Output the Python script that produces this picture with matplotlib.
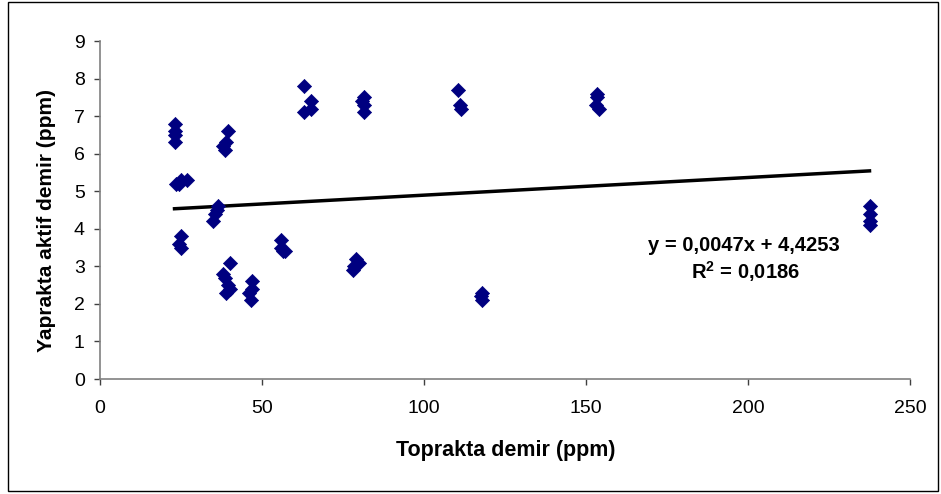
import matplotlib
matplotlib.use("Agg")
import matplotlib.pyplot as plt
from matplotlib.patches import Rectangle
import numpy as np

plt.rcParams['font.family'] = ['Liberation Sans', 'DejaVu Sans']

# ---- data ----
soil_fe = [23, 23, 23, 23,
           23.5, 24.5, 25, 27,
           25, 24.5, 25,
           36.5, 36, 35.5, 35,
           39.5, 39, 38, 38.5,
           40, 38, 38.5, 39.5, 40, 39,
           47, 47, 46, 46.5,
           56, 56, 57, 56.5,
           79, 80, 78.5, 78,
           63, 65, 65, 63,
           81.5, 81, 81.5, 81.5,
           110.5, 111, 111.5,
           118, 117.5, 118,
           153.5, 153.5, 153, 154,
           237.5, 237.5, 237.5, 237.5]
leaf_fe = [6.8, 6.6, 6.5, 6.3,
           5.2, 5.2, 5.3, 5.3,
           3.8, 3.6, 3.5,
           4.6, 4.5, 4.4, 4.2,
           6.6, 6.3, 6.2, 6.1,
           3.1, 2.8, 2.7, 2.5, 2.4, 2.3,
           2.6, 2.4, 2.3, 2.1,
           3.7, 3.5, 3.4, 3.4,
           3.2, 3.1, 3.0, 2.9,
           7.8, 7.4, 7.2, 7.1,
           7.5, 7.4, 7.3, 7.1,
           7.7, 7.3, 7.2,
           2.3, 2.2, 2.1,
           7.6, 7.5, 7.3, 7.2,
           4.6, 4.4, 4.2, 4.1]
slope = 0.0047
intercept = 4.4253
r2_text = "R$^{\\mathbf{2}}$ = 0,0186"
eq_text = "y = 0,0047x + 4,4253"
x_ticks = [0, 50, 100, 150, 200, 250]
y_ticks = [0, 1, 2, 3, 4, 5, 6, 7, 8, 9]
x_label = "Toprakta demir (ppm)"
y_label = "Yaprakta aktif demir (ppm)"

plt.rcParams['mathtext.fontset'] = 'custom'
plt.rcParams['mathtext.rm'] = 'Liberation Sans:bold'
plt.rcParams['mathtext.bf'] = 'Liberation Sans:bold'
plt.rcParams['mathtext.default'] = 'bf'

# ---- figure ----
fig = plt.figure(figsize=(9.41, 4.94), dpi=100)
fig.patch.set_facecolor('white')
fig.patches.append(Rectangle((8/941, 1-491/494), 930/941, 489/494,
                             transform=fig.transFigure, fill=False,
                             edgecolor='black', linewidth=1.0))

ax = fig.add_axes([100/941, 1-379/494, 810/941, 338/494])
ax.scatter(soil_fe, leaf_fe, marker='D', s=52, color='#000080',
           edgecolors='#000080', linewidths=0.5, zorder=3)

xl = np.array([min(soil_fe), max(soil_fe)])
ax.plot(xl, slope*xl + intercept, color='black', linewidth=2.5, zorder=2)

ax.set_xlim(0, 250)
ax.set_ylim(0, 9)
ax.set_xticks(x_ticks)
ax.set_yticks(y_ticks)
for s in ['top', 'right']:
    ax.spines[s].set_visible(False)
for s in ['left', 'bottom']:
    ax.spines[s].set_color('#808080')
    ax.spines[s].set_linewidth(1.2)
ax.tick_params(axis='both', direction='out', length=4, width=1, color='#404040',
               labelsize=14, labelcolor='black')
ax.tick_params(axis='x', pad=11)
ax.tick_params(axis='y', pad=7)

fig.text(506/941, 1-450/494, x_label, ha='center', va='center',
         fontsize=15.5, fontweight='bold')
fig.text(47/941, 1-220/494, y_label, ha='center', va='center',
         rotation=90, fontsize=15, fontweight='bold')

fig.text(744/941, 1-245/494, eq_text, ha='center', va='center',
         fontsize=14.5, fontweight='bold')
fig.text(745/941, 1-272/494, r2_text, ha='center', va='center',
         fontsize=14.5, fontweight='bold')

fig.savefig('out.png', dpi=100)
